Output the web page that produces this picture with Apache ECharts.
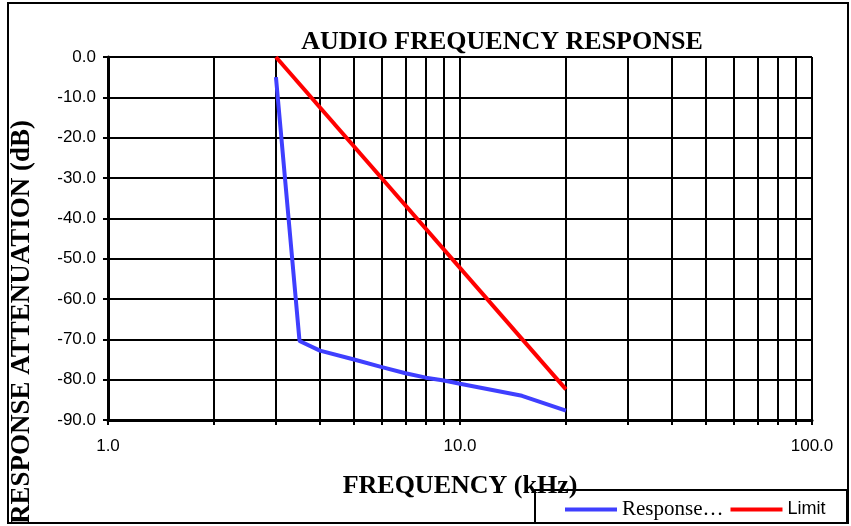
<!DOCTYPE html>
<html>
<head>
<meta charset="utf-8">
<script src="https://cdn.jsdelivr.net/npm/echarts@6/dist/echarts.min.js"></script>
<style>
  html, body { margin: 0; padding: 0; background: #fff; }
  #chart { width: 851px; height: 526px; }
</style>
</head>
<body>
<div id="chart"></div>
<script>
// kHz, dB
const responseFreq = [3, 3.5, 4, 5, 6, 7, 8, 9, 10, 15, 20];
const responseDb = [-5, -70.4, -72.8, -75, -76.9, -78.4, -79.5, -80.2, -81, -84, -87.7];
const limitFreq = [3, 20];
const limitDb = [0, -82.4];

const xTickValues = [1, 2, 3, 4, 5, 6, 7, 8, 9, 10, 20, 30, 40, 50, 60, 70, 80, 90, 100];
const xLabelValues = [1, 10, 100];

const serif = '"Liberation Serif", "Times New Roman", serif';
const sans = '"Liberation Sans", Arial, sans-serif';

const chart = echarts.init(document.getElementById('chart'));

const option = {
  animation: false,
  backgroundColor: '#fff',
  title: {
    text: 'AUDIO FREQUENCY RESPONSE',
    left: 497,
    top: 24,
    textAlign: 'center',
    textStyle: { fontFamily: serif, fontWeight: 'bold', fontSize: 26, color: '#000' }
  },
  grid: { left: 108, right: 39, top: 57, bottom: 106 },
  legend: {
    left: 560,
    top: 494,
    itemWidth: 52,
    itemHeight: 4,
    itemGap: 7,
    icon: 'rect',
    data: ['Response…', 'Limit'],
    formatter: name => name === 'Limit' ? '{s|' + name + '}' : '{r|' + name + '}',
    textStyle: {
      rich: {
        r: { fontFamily: serif, fontSize: 21, color: '#000' },
        s: { fontFamily: sans, fontSize: 18, color: '#000' }
      }
    }
  },
  graphic: [
    { type: 'rect', shape: { x: 8, y: 3, width: 840, height: 520 }, style: { fill: null, stroke: '#000', lineWidth: 2 }, z: 100 },
    { type: 'rect', shape: { x: 535, y: 490, width: 312, height: 33 }, style: { fill: null, stroke: '#000', lineWidth: 2 }, z: 100 },
    {
      type: 'text', x: 22, y: 322, rotation: Math.PI / 2,
      style: { text: 'RESPONSE ATTENUATION (dB)', fontFamily: serif, fontWeight: 'bold', fontSize: 27, fill: '#000', align: 'center', verticalAlign: 'middle' }
    }
  ],
  xAxis: {
    type: 'log',
    logBase: 10,
    min: 1,
    max: 100,
    name: 'FREQUENCY (kHz)',
    nameLocation: 'middle',
    nameGap: 53,
    nameTextStyle: { fontFamily: serif, fontWeight: 'bold', fontSize: 26, color: '#000' },
    axisLine: { onZero: false, lineStyle: { color: '#000', width: 3 } },
    axisTick: { customValues: xTickValues, length: 5, lineStyle: { color: '#000', width: 2 } },
    axisLabel: {
      customValues: xLabelValues,
      margin: 18,
      fontFamily: sans, fontSize: 17, color: '#000',
      formatter: v => Number(v).toFixed(1)
    },
    splitLine: { show: true, lineStyle: { color: '#000', width: 2 } }
  },
  yAxis: {
    type: 'value',
    min: -90,
    max: 0,
    interval: 10,
    axisLine: { show: true, lineStyle: { color: '#000', width: 3 } },
    axisTick: { show: true, length: 5, lineStyle: { color: '#000', width: 2 } },
    axisLabel: { margin: 12, fontFamily: sans, fontSize: 17, color: '#000', formatter: v => v.toFixed(1) },
    splitLine: { show: true, lineStyle: { color: '#000', width: 2 } }
  },
  series: [
    {
      name: 'Response…',
      type: 'line',
      symbol: 'none',
      color: '#3f3fff',
      lineStyle: { width: 4, color: '#3f3fff' },
      data: responseFreq.map((f, i) => [f, responseDb[i]]),
      z: 3
    },
    {
      name: 'Limit',
      type: 'line',
      symbol: 'none',
      color: '#ff0000',
      lineStyle: { width: 4, color: '#ff0000' },
      data: limitFreq.map((f, i) => [f, limitDb[i]]),
      z: 4
    }
  ]
};

chart.setOption(option);
</script>
</body>
</html>
